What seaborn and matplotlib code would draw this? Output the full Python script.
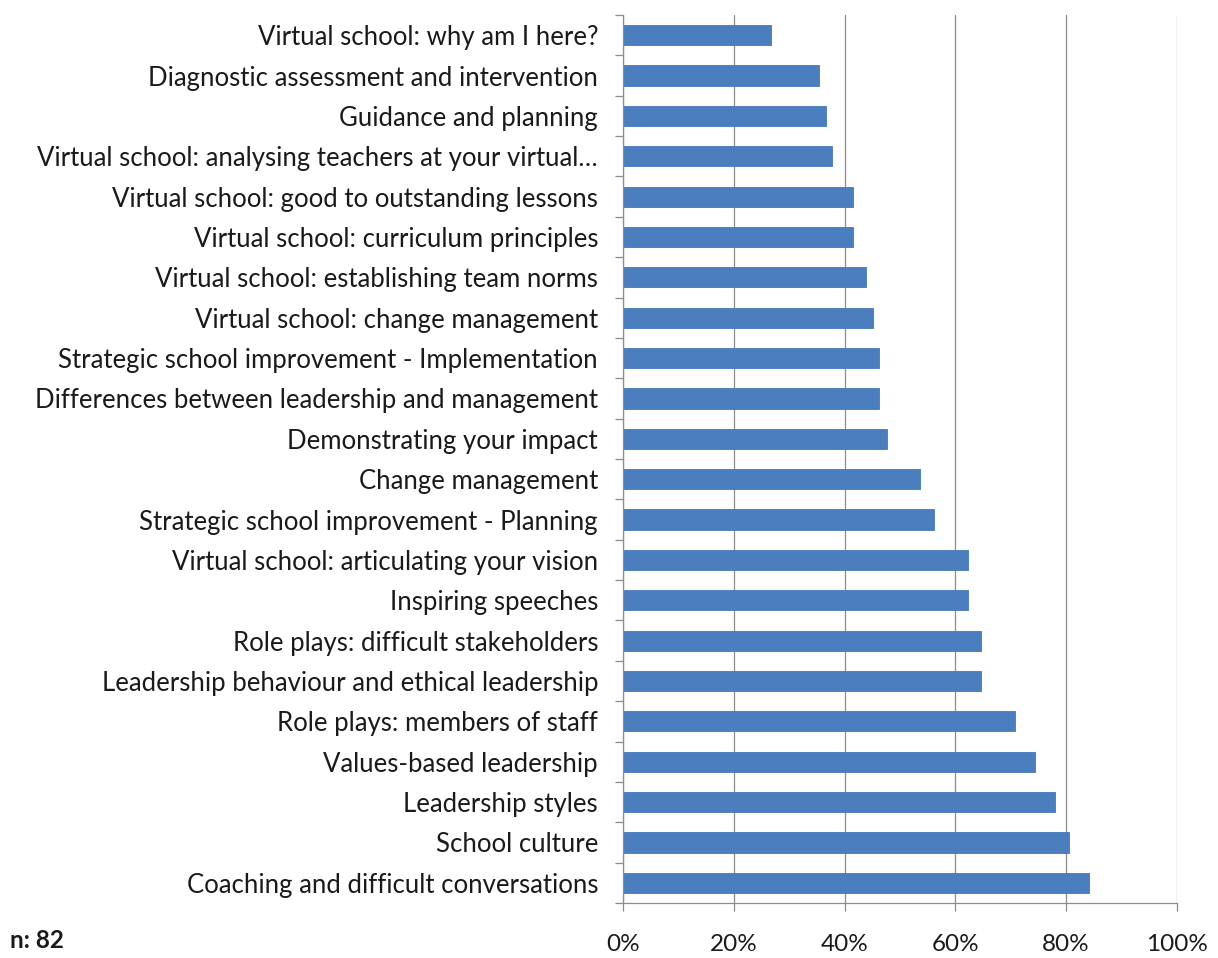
import matplotlib
matplotlib.use("Agg")
import matplotlib.pyplot as plt
from matplotlib.ticker import FixedLocator, PercentFormatter
import seaborn as sns
import pandas as pd
import numpy as np

# Topics, listed top to bottom as drawn
topics = [
    "Virtual school: why am I here?",
    "Diagnostic assessment and intervention",
    "Guidance and planning",
    "Virtual school: analysing teachers at your virtual\u2026",
    "Virtual school: good to outstanding lessons",
    "Virtual school: curriculum principles",
    "Virtual school: establishing team norms",
    "Virtual school: change management",
    "Strategic school improvement - Implementation",
    "Differences between leadership and management",
    "Demonstrating your impact",
    "Change management",
    "Strategic school improvement - Planning",
    "Virtual school: articulating your vision",
    "Inspiring speeches",
    "Role plays: difficult stakeholders",
    "Leadership behaviour and ethical leadership",
    "Role plays: members of staff",
    "Values-based leadership",
    "Leadership styles",
    "School culture",
    "Coaching and difficult conversations",
]

# Share of respondents (fraction, n = 82)
shares = [
    0.268, 0.354, 0.366, 0.378, 0.415, 0.415, 0.439, 0.451, 0.463, 0.463, 0.476,
    0.537, 0.561, 0.622, 0.622, 0.646, 0.646, 0.707, 0.744, 0.780, 0.805, 0.841,
]

x_ticks = [0, 0.2, 0.4, 0.6, 0.8, 1.0]
n_label = "n: 82"

df = pd.DataFrame({"topic": topics, "share": shares})

sns.set_theme(style="white")
plt.rcParams["font.family"] = ["Lato", "DejaVu Sans"]

fig = plt.figure(figsize=(12.18, 9.58), dpi=100)
ax = fig.add_axes([0.5115, 0.0574, 0.4548, 0.9269])

sns.barplot(data=df, y="topic", x="share", orient="h", order=topics,
            color="#4A7EBF", saturation=1, width=0.5,
            edgecolor="#4577B8", linewidth=0.6, ax=ax)

ax.set_xlim(0, 1.0)
ax.set_ylim(len(topics) - 0.5, -0.5)
ax.set_xticks(x_ticks)
ax.xaxis.set_major_formatter(PercentFormatter(1.0, decimals=0))
ax.set_xlabel("")
ax.set_ylabel("")

# Vertical gridlines
ax.grid(axis="x", color="#8C8C8C", linewidth=0.9)
ax.grid(axis="y", visible=False)
ax.set_axisbelow(True)

for side in ("top", "right"):
    ax.spines[side].set_visible(False)
for side in ("left", "bottom"):
    ax.spines[side].set_visible(True)
    ax.spines[side].set_color("#8C8C8C")
    ax.spines[side].set_linewidth(0.9)

# Category tick marks sit between bars
ax.yaxis.set_minor_locator(FixedLocator(np.arange(-0.5, len(topics), 1.0)))
ax.tick_params(axis="y", which="major", length=0, pad=18, labelsize=18.5,
               labelcolor="#1A1A1A")
ax.tick_params(axis="y", which="minor", length=6, width=0.9, color="#8C8C8C",
               direction="out", left=True)
ax.tick_params(axis="x", which="major", length=6, width=0.9, color="#8C8C8C",
               direction="out", bottom=True, pad=16, labelsize=17.5,
               labelcolor="#1A1A1A")

fig.text(0.008, 0.006, n_label, fontsize=17.5, fontweight="bold",
         color="#1A1A1A", ha="left", va="bottom")

fig.savefig("out.png", dpi=100, facecolor="white")
